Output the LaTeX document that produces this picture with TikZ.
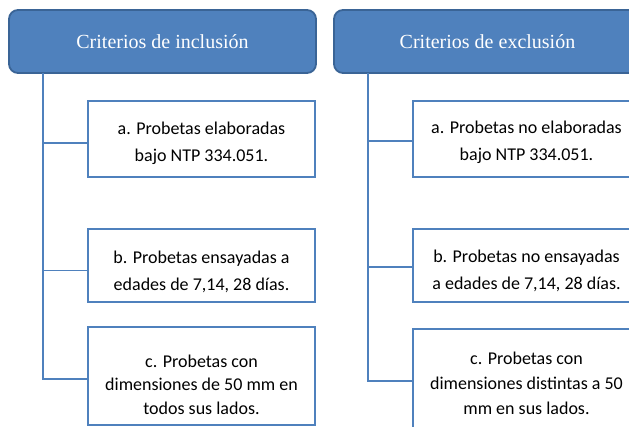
\documentclass[tikz,border=0pt]{standalone}
\usepackage{fontspec}
\setmainfont{Liberation Serif}
\newfontfamily\bodyfont{Carlito}
\definecolor{hdrfill}{HTML}{4F81BD}
\definecolor{hdrline}{HTML}{3A6496}
\definecolor{boxline}{HTML}{4F81BD}
\begin{document}
\begin{tikzpicture}[x=1pt,y=-1pt,
  header/.style={rectangle, rounded corners=9pt, fill=hdrfill, draw=hdrline, line width=1.8pt,
    minimum width=307pt, minimum height=63pt, text=white, font=\fontsize{20}{24}\selectfont, inner sep=0pt},
  itembox/.style={rectangle, draw=boxline, fill=white, line width=2.3pt, minimum width=227pt, inner sep=0pt},
  itemtext/.style={align=center, inner sep=0pt, font=\bodyfont\fontsize{18}{#1}\selectfont},
  conn/.style={draw=boxline, line width=1.5pt}]
\useasboundingbox (0,0) rectangle (629,427);
\begin{scope}
\clip (0,0) rectangle (629,427);
% headers
\node[header] (hl) at (162.5,41.5) {Criterios de inclusión};
\node[header] (hr) at (487.5,41.5) {Criterios de exclusión};
% left items
\node[itembox, minimum height=76pt] (la) at (201.5,139) {};
\node[itemtext=27] (lat) at (201.5,143) {a. Probetas elaboradas\\bajo NTP 334.051.};
\node[itembox, minimum height=73pt] (lb) at (201.5,265.5) {};
\node[itemtext=27] (lbt) at (201.5,272) {b. Probetas ensayadas a\\edades de 7,14, 28 días.};
\node[itembox, minimum height=98pt] (lc) at (201.5,376) {};
\node[itemtext=23.5] (lct) at (201.5,384.5) {c. Probetas con\\dimensiones de 50 mm en\\todos sus lados.};
% right items
\node[itembox, minimum height=76pt] (ra) at (526.5,139) {};
\node[itemtext=27] (rat) at (526.5,142) {a. Probetas no elaboradas\\bajo NTP 334.051.};
\node[itembox, minimum height=73pt] (rb) at (526.5,265.5) {};
\node[itemtext=27] (rbt) at (526.5,271) {b. Probetas no ensayadas\\a edades de 7,14, 28 días.};
\node[itembox, minimum height=99pt] (rc) at (526.5,378.5) {};
\node[itemtext=25] (rct) at (526.5,383) {c. Probetas con\\dimensiones distintas a 50\\mm en sus lados.};
% connectors
\coordinate (lt) at (43,73);
\coordinate (rt) at (368,73);
\draw[conn] (lt) |- ([yshift=-3pt]lc.west);
\draw[conn] (lt) |- ([yshift=-4pt]la.west);
\draw[conn] (lt) |- ([yshift=-5pt]lb.west);
\draw[conn] (rt) |- ([yshift=-2.5pt]rc.west);
\draw[conn] (rt) |- ([yshift=-2pt]ra.west);
\draw[conn] (rt) |- ([yshift=-1.5pt]rb.west);
\end{scope}
\end{tikzpicture}
\end{document}
